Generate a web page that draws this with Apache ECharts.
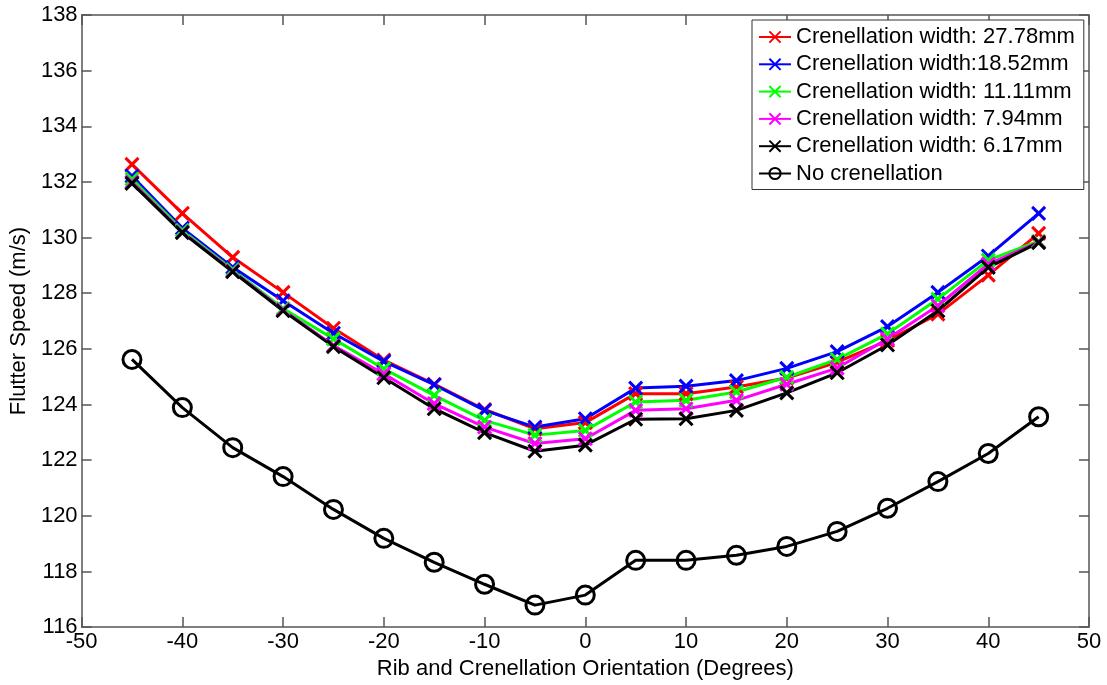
<!DOCTYPE html>
<html>
<head>
<meta charset="utf-8">
<script src="https://cdn.jsdelivr.net/npm/echarts@6/dist/echarts.min.js"></script>
<style>
  html, body { margin: 0; padding: 0; background: #fff; }
  #chart { width: 1107px; height: 685px; }
</style>
</head>
<body>
<div id="chart"></div>
<script>
// Rib / crenellation orientation (degrees)
const orientation = [-45, -40, -35, -30, -25, -20, -15, -10, -5, 0, 5, 10, 15, 20, 25, 30, 35, 40, 45];

// Flutter speed (m/s) for each crenellation width
const width2778 = [132.63, 130.87, 129.29, 128.03, 126.74, 125.60, 124.73, 123.82, 123.13, 123.35, 124.39, 124.39, 124.63, 124.95, 125.52, 126.30, 127.25, 128.65, 130.15];
const width1852 = [132.21, 130.34, 128.93, 127.73, 126.56, 125.55, 124.71, 123.79, 123.19, 123.49, 124.59, 124.66, 124.86, 125.30, 125.90, 126.80, 128.03, 129.34, 130.87];
const width1111 = [132.10, 130.26, 128.85, 127.45, 126.36, 125.28, 124.33, 123.43, 122.90, 123.07, 124.09, 124.15, 124.45, 124.98, 125.62, 126.54, 127.79, 129.19, 129.87];
const width794  = [132.00, 130.20, 128.80, 127.40, 126.12, 125.10, 124.03, 123.19, 122.60, 122.77, 123.79, 123.85, 124.15, 124.73, 125.31, 126.36, 127.55, 129.05, 129.84];
const width617  = [131.95, 130.18, 128.77, 127.37, 126.08, 124.96, 123.85, 122.99, 122.32, 122.54, 123.47, 123.49, 123.79, 124.42, 125.14, 126.14, 127.37, 128.93, 129.82];
const noCrenellation = [125.62, 123.89, 122.45, 121.41, 120.23, 119.19, 118.33, 117.54, 116.79, 117.15, 118.40, 118.40, 118.58, 118.90, 119.44, 120.27, 121.23, 122.24, 123.56];

const seriesNames = [
  'Crenellation width: 27.78mm',
  'Crenellation width:18.52mm',
  'Crenellation width: 11.11mm',
  'Crenellation width: 7.94mm',
  'Crenellation width: 6.17mm',
  'No crenellation'
];
const seriesColors = ['#ff0000', '#0000ff', '#00ff00', '#ff00ff', '#000000', '#000000'];
const seriesValues = [width2778, width1852, width1111, width794, width617, noCrenellation];

const FONT = "'Liberation Sans', Arial, sans-serif";
const AXIS_COLOR = '#555555';
const CROSS = 'path://M0,0L10,10M10,0L0,10';

function pairs(values) {
  return orientation.map((x, i) => [x, values[i]]);
}

const series = seriesValues.map((vals, i) => {
  const isCircle = i === 5;
  return {
    name: seriesNames[i],
    type: 'line',
    xAxisIndex: 0,
    yAxisIndex: 0,
    data: pairs(vals),
    symbol: isCircle ? 'circle' : CROSS,
    symbolSize: isCircle ? 18 : 13,
    showAllSymbol: true,
    lineStyle: { color: seriesColors[i], width: 3 },
    itemStyle: {
      color: isCircle ? 'rgba(0,0,0,0)' : seriesColors[i],
      borderColor: seriesColors[i],
      borderWidth: 3
    },
    emphasis: { disabled: true },
    animation: false
  };
});

function axisStyle() {
  return {
    axisLine: { show: true, onZero: false, lineStyle: { color: AXIS_COLOR, width: 1.5 } },
    axisTick: { show: true, inside: true, length: 10, lineStyle: { color: AXIS_COLOR, width: 1.5 } },
    splitLine: { show: false }
  };
}

const option = {
  backgroundColor: '#ffffff',
  animation: false,
  grid: { left: 79, right: 18, top: 15, bottom: 56, containLabel: false },
  legend: {
    orient: 'vertical',
    left: 752,
    top: 20,
    padding: [6, 9, 5, 6],
    itemGap: 5.3,
    itemWidth: 32,
    itemHeight: 14,
    backgroundColor: '#ffffff',
    borderColor: '#333333',
    borderWidth: 1,
    borderRadius: 0,
    textStyle: { fontFamily: FONT, fontSize: 22, lineHeight: 22, color: '#000000' },
    data: seriesNames
  },
  xAxis: [
    Object.assign({
      type: 'value',
      min: -50, max: 50, interval: 10,
      position: 'bottom',
      name: 'Rib and Crenellation Orientation (Degrees)',
      nameLocation: 'middle',
      nameGap: 26,
      nameTextStyle: { fontFamily: FONT, fontSize: 22, color: '#000000' },
      axisLabel: { fontFamily: FONT, fontSize: 22, color: '#000000', margin: 4 }
    }, axisStyle()),
    Object.assign({
      type: 'value',
      min: -50, max: 50, interval: 10,
      position: 'top',
      axisLabel: { show: false }
    }, axisStyle())
  ],
  yAxis: [
    Object.assign({
      type: 'value',
      min: 116, max: 138, interval: 2,
      position: 'left',
      name: 'Flutter Speed (m/s)',
      nameLocation: 'middle',
      nameGap: 50,
      nameTextStyle: { fontFamily: FONT, fontSize: 22, color: '#000000' },
      axisLabel: { fontFamily: FONT, fontSize: 22, color: '#000000', margin: 4 }
    }, axisStyle()),
    Object.assign({
      type: 'value',
      min: 116, max: 138, interval: 2,
      position: 'right',
      axisLabel: { show: false }
    }, axisStyle())
  ],
  series: series
};

const chart = echarts.init(document.getElementById('chart'), null, { renderer: 'canvas' });
chart.setOption(option);
</script>
</body>
</html>
